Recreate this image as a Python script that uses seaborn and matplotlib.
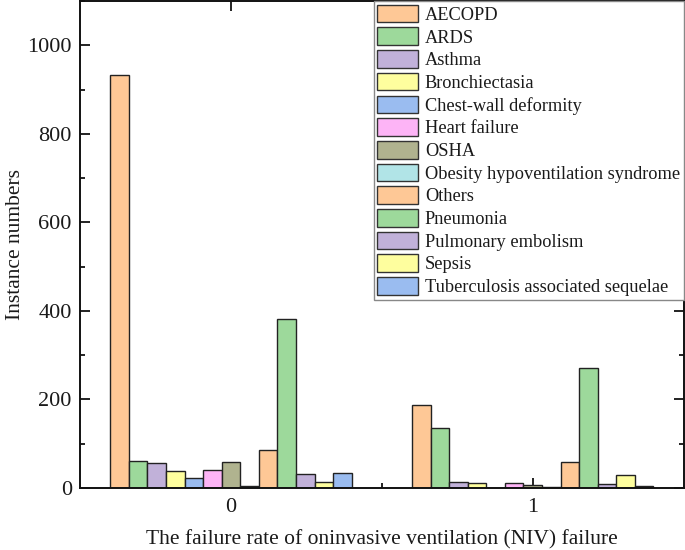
import numpy as np
import pandas as pd
import matplotlib
matplotlib.use("Agg")
import matplotlib.pyplot as plt
import seaborn as sns
from matplotlib.ticker import MultipleLocator, FixedLocator
from matplotlib.patches import Patch

# NIV failure groups and the causes
groups = ["0", "1"]
causes = ["AECOPD", "ARDS", "Asthma", "Bronchiectasia", "Chest-wall deformity",
          "Heart failure", "OSHA", "Obesity hypoventilation syndrome", "Others",
          "Pneumonia", "Pulmonary embolism", "Sepsis",
          "Tuberculosis associated sequelae"]
counts_0 = [933, 61, 56, 37, 23, 41, 59, 5, 86, 381, 31, 14, 34]
counts_1 = [187, 135, 14, 10, 0, 10, 6, 2, 59, 271, 8, 30, 4]

colors = ["#FEC896", "#9DD99B", "#C1B1D9", "#FEFE9E", "#9ABCF0", "#FDB4F6",
          "#B0B38F", "#B1E4E7", "#FEC896", "#9DD99B", "#C1B1D9", "#FEFE9E",
          "#9ABCF0"]

df = pd.DataFrame({
    "group": np.repeat(groups, len(causes)),
    "cause": causes * len(groups),
    "count": counts_0 + counts_1,
})

sns.set_style("ticks")
plt.rcParams["font.family"] = ["Liberation Serif", "DejaVu Serif"]

fig = plt.figure(figsize=(6.85, 5.5), dpi=100)
ax = fig.add_axes([0.117, 0.113, 0.881, 0.885])

sns.barplot(data=df, x="group", y="count", hue="cause", hue_order=causes,
            palette=colors, saturation=1, width=0.8, edgecolor="#222222",
            linewidth=1.0, ax=ax, legend=False)

ax.set_xlim(-0.5, 1.5)
ax.set_ylim(0, 1100)
ax.yaxis.set_major_locator(MultipleLocator(200))
ax.yaxis.set_minor_locator(MultipleLocator(100))
ax.xaxis.set_minor_locator(FixedLocator([0.5]))
ax.tick_params(which="both", direction="in", top=True, right=True,
               labelsize=16, width=1.3, color="#111111", labelcolor="#1a1a1a")
ax.tick_params(which="major", length=7)
ax.tick_params(which="minor", length=3.6)
ax.tick_params(axis="x", pad=7)
ax.tick_params(axis="y", pad=6)
for s in ax.spines.values():
    s.set_linewidth(1.4)
    s.set_color("#111111")

ax.set_xlabel("The failure rate of oninvasive ventilation (NIV) failure",
              fontsize=15.5, color="#1a1a1a", labelpad=10)
ax.set_ylabel("Instance numbers", fontsize=15.5, color="#1a1a1a", labelpad=2)

handles = [Patch(facecolor=c, edgecolor="#333333", linewidth=1.0)
           for c in colors]
leg = ax.legend(handles, causes, loc="upper right", bbox_to_anchor=(1.0, 1.0),
                borderaxespad=0, fontsize=13.2, handlelength=2.2,
                handleheight=1.1, handletextpad=0.4, labelspacing=0.2,
                borderpad=0.2, fancybox=False, framealpha=1)
leg.get_frame().set_edgecolor("#888888")
leg.get_frame().set_linewidth(1.0)
for t in leg.get_texts():
    t.set_color("#1a1a1a")

fig.savefig("out.png", dpi=100)
